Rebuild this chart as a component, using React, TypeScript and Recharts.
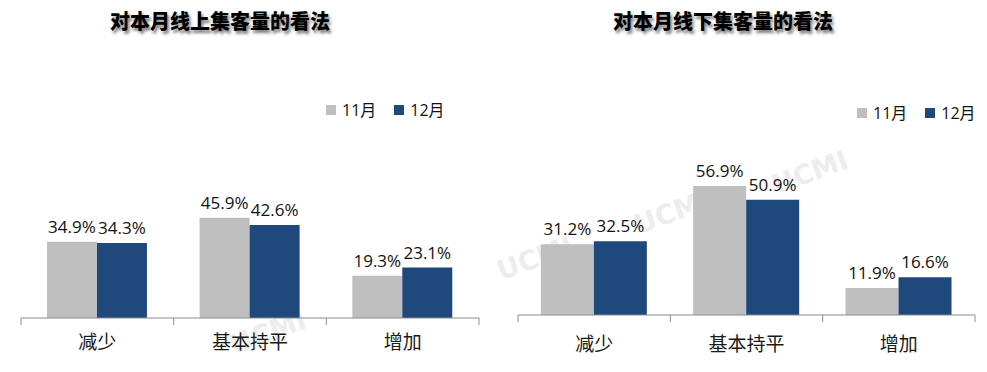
import React from "react";
import { BarChart, Bar, XAxis, YAxis, LabelList } from "recharts";

const categories = ["减少", "基本持平", "增加"];
const seriesNames = ["11月", "12月"];
const onlineNov = [34.9, 45.9, 19.3];
const onlineDec = [34.3, 42.6, 23.1];
const offlineNov = [31.2, 56.9, 11.9];
const offlineDec = [32.5, 50.9, 16.6];
const titles = ["对本月线上集客量的看法", "对本月线下集客量的看法"];

const GRAY = "#BFBFBF";
const BLUE = "#1F497D";
const AXIS = "#8C8C8C";
const LATIN = "'Open Sans', 'Noto Sans CJK SC', sans-serif";
const CJK = "'Noto Sans CJK SC', sans-serif";

const buildRows = (nov: number[], dec: number[]) =>
  categories.map((name, i) => ({ name, nov: nov[i], dec: dec[i] }));

const onlineData = buildRows(onlineNov, onlineDec);
const offlineData = buildRows(offlineNov, offlineDec);

const fmt = (v: any) => `${Number(v).toFixed(1)}%`;

// category label plus Excel-style tick marks at the band edges
function makeTick(band: number, labelDy: number) {
  return (props: any) => {
    const { x, y, payload, index } = props;
    const last = index === categories.length - 1;
    return (
      <g>
        <line x1={x - band / 2} x2={x - band / 2} y1={y} y2={y + 7} stroke={AXIS} />
        {last && (
          <line x1={x + band / 2} x2={x + band / 2} y1={y} y2={y + 7} stroke={AXIS} />
        )}
        <text
          x={x}
          y={y + labelDy}
          textAnchor="middle"
          dominantBaseline="central"
          fontFamily={CJK}
          fontSize={19}
          fill="#1a1a1a"
        >
          {payload.value}
        </text>
      </g>
    );
  };
}

function Legend({ left, top }: { left: number; top: number }) {
  const colors = [GRAY, BLUE];
  return (
    <div
      style={{
        position: "absolute",
        left,
        top,
        width: 140,
        display: "flex",
        alignItems: "center",
        whiteSpace: "nowrap",
        zIndex: 2,
      }}
    >
      {seriesNames.map((s, i) => (
        <div key={s} style={{ display: "flex", alignItems: "center", marginRight: 18, flexShrink: 0 }}>
          <div style={{ width: 10, height: 10, background: colors[i], marginRight: 6 }} />
          <span style={{ fontFamily: LATIN, fontSize: 16, color: "#111", lineHeight: "16px" }}>{s}</span>
        </div>
      ))}
    </div>
  );
}

function Title({ text, cx }: { text: string; cx: number }) {
  return (
    <div
      style={{
        position: "absolute",
        left: cx - 150,
        width: 300,
        top: 8,
        textAlign: "center",
        fontFamily: CJK,
        fontWeight: 900,
        fontSize: 20,
        lineHeight: "26px",
        color: "#000",
        textShadow: "2px 3px 3px rgba(0,0,0,0.5)",
        zIndex: 2,
      }}
    >
      {text}
    </div>
  );
}

const watermarks = [
  { x: 268, y: 332 },
  { x: 535, y: 258 },
  { x: 672, y: 212 },
  { x: 810, y: 172 },
];

function Panel({
  data,
  left,
  width,
  margin,
  band,
  labelDy,
  gap,
}: {
  data: any[];
  left: number;
  width: number;
  margin: { top: number; right: number; bottom: number; left: number };
  band: number;
  labelDy: number;
  gap: string;
}) {
  return (
    <div style={{ position: "absolute", left, top: 0, zIndex: 1 }}>
      <BarChart
        width={width}
        height={372}
        data={data}
        margin={margin}
        barGap={0}
        barCategoryGap={gap}
      >
        <XAxis
          dataKey="name"
          height={40}
          axisLine={{ stroke: AXIS }}
          tickLine={false}
          tickSize={0}
          tickMargin={0}
          interval={0}
          tick={makeTick(band, labelDy)}
        />
        <YAxis hide domain={[0, 60]} />
        <Bar dataKey="nov" name={seriesNames[0]} fill={GRAY} isAnimationActive={false}>
          <LabelList dataKey="nov" position="top" offset={9} formatter={fmt} fill="#111" fontSize={17} fontFamily={LATIN} />
        </Bar>
        <Bar dataKey="dec" name={seriesNames[1]} fill={BLUE} isAnimationActive={false}>
          <LabelList dataKey="dec" position="top" offset={9} formatter={fmt} fill="#111" fontSize={17} fontFamily={LATIN} />
        </Bar>
      </BarChart>
    </div>
  );
}

export default function App() {
  return (
    <div style={{ position: "absolute", left: 0, top: 0, width: 987, height: 372, background: "#fff", overflow: "hidden" }}>
      <svg width={987} height={372} style={{ position: "absolute", left: 0, top: 0, zIndex: 0 }}>
        {watermarks.map((w, i) => (
          <text
            key={i}
            x={w.x}
            y={w.y}
            textAnchor="middle"
            dominantBaseline="central"
            transform={`rotate(-20 ${w.x} ${w.y})`}
            fontFamily="'DejaVu Sans', sans-serif"
            fontWeight="bold"
            fontSize={27}
            fill="#EDEDED"
          >
            UCMI
          </text>
        ))}
      </svg>
      <Title text={titles[0]} cx={220} />
      <Title text={titles[1]} cx={723} />
      <Legend left={326} top={102} />
      <Legend left={857} top={105} />
      <Panel
        data={onlineData}
        left={0}
        width={500}
        margin={{ top: 187, right: 21, bottom: 14, left: 21 }}
        band={458 / 3}
        labelDy={22}
        gap="17%"
      />
      <Panel
        data={offlineData}
        left={500}
        width={487}
        margin={{ top: 179, right: 12, bottom: 17, left: 18 }}
        band={457 / 3}
        labelDy={27}
        gap="15%"
      />
    </div>
  );
}
